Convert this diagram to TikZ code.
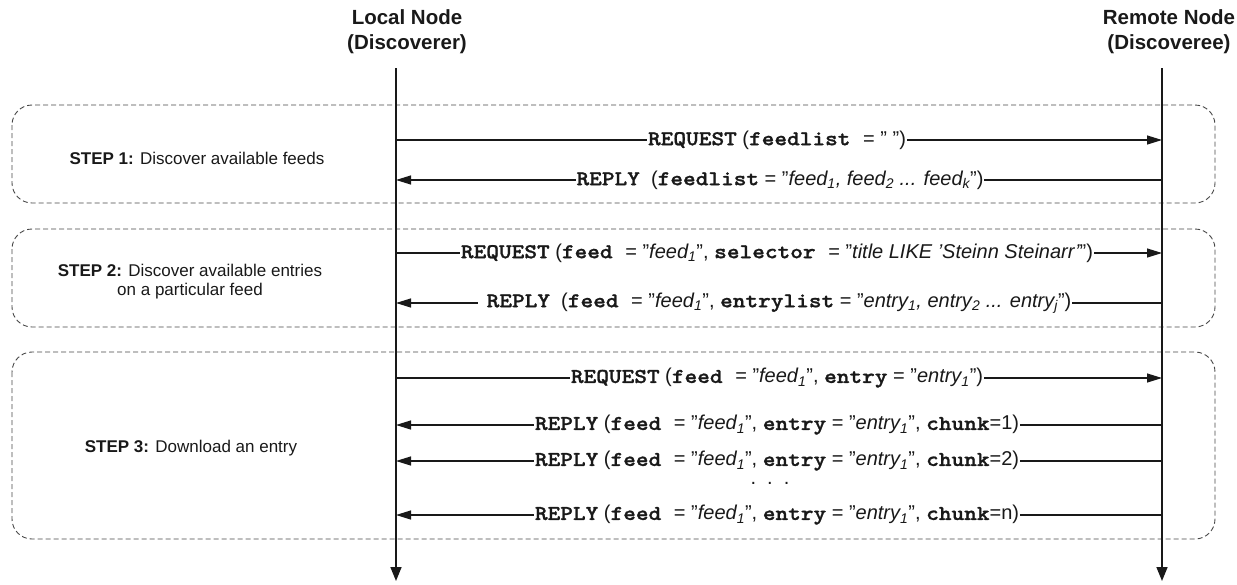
\documentclass[tikz,border=0pt]{standalone}
\usepackage{fontspec}
\setmainfont{Liberation Sans}
\newfontfamily\kwfont[FakeStretch=1.15,FakeBold=1.2]{lmmonolt10-bold.otf}
\usetikzlibrary{arrows.meta}
\newcommand{\kw}[1]{{\fontsize{21}{22}\kwfont #1}}
\newcommand{\ks}{{\fontsize{21}{22}\kwfont\ }}
\newcommand{\vl}[1]{{\itshape #1}}
\newcommand{\sub}[1]{\textsubscript{#1}}
\newcommand{\msgfont}{\fontsize{20}{22}\selectfont}
\newcommand{\hdrfont}{\fontsize{20.5}{24.5}\selectfont\bfseries}
\newcommand{\stepfont}{\fontsize{17}{19}\selectfont}
\begin{document}
\begin{tikzpicture}[x=1pt,y=-1pt,
  lifeline/.style={line width=1.6pt, draw=black!90, -{Triangle[length=14pt,width=11pt]}},
  msg/.style={line width=1.2pt, draw=black!90},
  rarr/.style={msg, -{Triangle[length=15pt,width=9pt]}},
  larr/.style={msg, {Triangle[length=15pt,width=9pt]}-},
  lbl/.style={fill=white, inner xsep=1pt, inner ysep=2pt, font=\msgfont, text=black!90},
  stepbox/.style={draw=black!72, dash pattern=on 5pt off 3pt, rounded corners=20pt, line width=0.9pt},
  hdr/.style={align=center, font=\hdrfont, text=black!90, inner sep=0pt},
  steplbl/.style={align=center, font=\stepfont, text=black!90, inner sep=0pt}]
\useasboundingbox (0,0) rectangle (1237,584);

% step boxes
\draw[stepbox] (12,105) rectangle (1215,203);
\draw[stepbox] (12,229) rectangle (1215,327);
\draw[stepbox] (12,352) rectangle (1215,539);

% headers
\node[hdr] (local) at (407,31.5) {Local Node\\(Discoverer)};
\node[hdr] (remote) at (1169,31.5) {Remote Node\\(Discoveree)};

% lifelines
\coordinate (Ltop) at (396,68);
\coordinate (Lbot) at (396,581);
\coordinate (Rtop) at (1162,68);
\coordinate (Rbot) at (1162,581);
\draw[lifeline] (Ltop) -- (Lbot);
\draw[lifeline] (Rtop) -- (Rbot);

% step labels
\node[steplbl, anchor=base] (s1) at (197,164) {\textbf{STEP 1:} Discover available feeds};
\node[steplbl] (s2) at (190,282) {\textbf{STEP 2:} Discover available entries\\on a particular feed};
\node[steplbl, anchor=base] (s3) at (191,452) {\textbf{STEP 3:} Download an entry};

% message anchors
\foreach \n/\y in {1/140,2/180,3/253,4/303,5/378,6/425,7/461,8/515}{
  \coordinate (L\n) at (396,\y);
  \coordinate (R\n) at (1162,\y);
}

\draw[rarr] (L1) -- node[lbl, xshift=-2pt] (m1) {\kw{REQUEST} (\kw{feedlist}\ks= ” ”)} (R1);
\draw[larr] (L2) -- node[lbl, xshift=1pt] (m2) {\kw{REPLY}\ \ (\kw{feedlist} = ”\vl{feed\sub{1}, feed\sub{2} ... feed\sub{k}}”)} (R2);
\draw[rarr] (L3) -- node[lbl, xshift=-2pt] (m3) {\kw{REQUEST} (\kw{feed}\ks= ”\vl{feed\sub{1}}”, \kw{selector}\ks= ”\vl{title LIKE ’Steinn Steinarr’}”)} (R3);
\draw[larr] (L4) -- node[lbl, xshift=-4pt] (m4) {\hspace{8pt}\kw{REPLY}\ \ (\kw{feed}\ks= ”\vl{feed\sub{1}}”, \kw{entrylist} = ”\vl{entry\sub{1}, entry\sub{2} ... entry\sub{j}}”)} (R4);
\draw[rarr] (L5) -- node[lbl, xshift=-2pt] (m5) {\kw{REQUEST} (\kw{feed}\ks= ”\vl{feed\sub{1}}”, \kw{entry} = ”\vl{entry\sub{1}}”)} (R5);
\draw[larr] (L6) -- node[lbl, xshift=-2pt] (m6) {\kw{REPLY} (\kw{feed}\ks= ”\vl{feed\sub{1}}”, \kw{entry} = ”\vl{entry\sub{1}}”, \kw{chunk}=1)} (R6);
\draw[larr] (L7) -- node[lbl, xshift=-2pt] (m7) {\kw{REPLY} (\kw{feed}\ks= ”\vl{feed\sub{1}}”, \kw{entry} = ”\vl{entry\sub{1}}”, \kw{chunk}=2)} (R7);
\node[font=\msgfont, text=black!90] (dots) at (770,483) {.\ \ .\ \ .};
\draw[larr] (L8) -- node[lbl, xshift=-2pt] (m8) {\kw{REPLY} (\kw{feed}\ks= ”\vl{feed\sub{1}}”, \kw{entry} = ”\vl{entry\sub{1}}”, \kw{chunk}=n)} (R8);
\end{tikzpicture}
\end{document}
